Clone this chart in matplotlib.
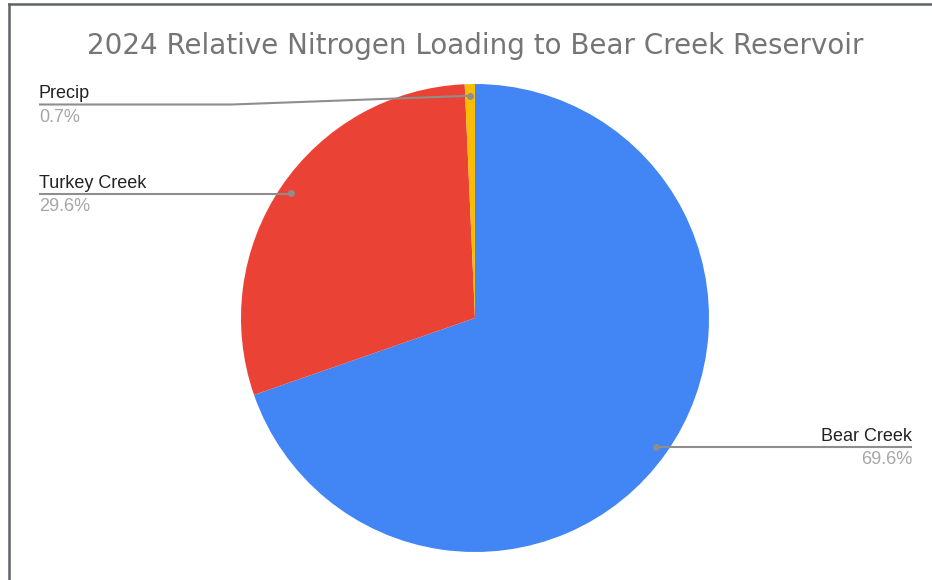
import numpy as np
import matplotlib
matplotlib.use("Agg")
import matplotlib.pyplot as plt
from matplotlib.lines import Line2D

# Share of nitrogen load by source (percent)
sources = ["Bear Creek", "Turkey Creek", "Precip"]
shares = [69.6, 29.6, 0.7]
colors = ["#4285f4", "#ea4335", "#fbbc04"]

title = "2024 Relative Nitrogen Loading to Bear Creek Reservoir"

W, H = 932, 580
fig = plt.figure(figsize=(W / 100, H / 100), dpi=100)
ax = fig.add_axes([0, 0, 1, 1])

# pie centre sits at (475, 318) px with a 234 px radius
cx, cy, R = 475, 318, 234
wedges, _ = ax.pie(shares, colors=colors, startangle=90, counterclock=False,
                   radius=1.0, wedgeprops=dict(linewidth=0, antialiased=True))
ax.set_xlim(-cx / R, (W - cx) / R)
ax.set_ylim(-(H - cy) / R, cy / R)
ax.set_aspect("equal")
ax.axis("off")


def px(x, y):
    return (x - cx) / R, (cy - y) / R


line_col = "#8e8e8e"
name_col = "#222222"
pct_col = "#a6a6a6"
font = "Liberation Sans"

# leader layout: (line y in px, label x in px, side, elbow x in px)
layout = {
    "Precip": (104.5, 39, "left", 232),
    "Turkey Creek": (194, 39, "left", None),
    "Bear Creek": (447, 912, "right", None),
}

for w, name, val in zip(wedges, sources, shares):
    mid = np.deg2rad((w.theta1 + w.theta2) / 2)
    dx, dy = 0.95 * np.cos(mid), 0.95 * np.sin(mid)
    ly, lx, side, elbow = layout[name]
    x0, y0 = px(lx, ly)
    if elbow is not None:
        ex, _ = px(elbow, ly)
        xs, ys = [x0, ex, dx], [y0, y0, dy]
    else:
        xs, ys = [x0, dx], [y0, y0]
    ax.plot(xs, ys, color=line_col, lw=1.5, solid_capstyle="butt", zorder=3)
    ax.plot([dx], [dy], "o", color=line_col, ms=5, mec="none", zorder=4)
    ha = "left" if side == "left" else "right"
    tx, ty = px(lx, ly - 6)
    ax.text(tx, ty, name, ha=ha, va="baseline", fontsize=13,
            color=name_col, family=font)
    tx, ty = px(lx, ly + 17)
    ax.text(tx, ty, f"{val:.1f}%", ha=ha, va="baseline", fontsize=13,
            color=pct_col, family=font)

fig.text(475.5 / W, 1 - 54 / H, title, ha="center", va="baseline",
         fontsize=20, color="#757575", family="DejaVu Sans")

# frame edges along the top and left
fig.add_artist(Line2D([9 / W, 1], [1 - 4 / H, 1 - 4 / H], color="#5f6368",
                      lw=1.8, transform=fig.transFigure))
fig.add_artist(Line2D([9 / W, 9 / W], [0, 1 - 4 / H], color="#5f6368",
                      lw=1.8, transform=fig.transFigure))

fig.savefig("out.png", dpi=100, facecolor="white")
